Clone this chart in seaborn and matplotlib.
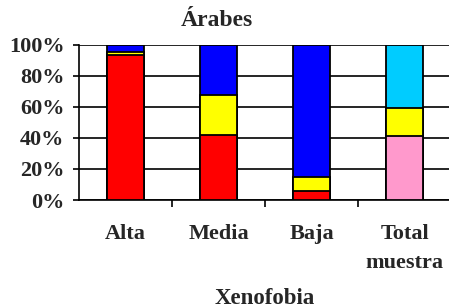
import matplotlib
matplotlib.use("Agg")
import matplotlib.pyplot as plt
import seaborn as sns
import numpy as np
import pandas as pd

categories = ["Alta", "Media", "Baja", "Total\nmuestra"]
bottom_vals = [93, 42, 6, 41]      # red / pink
middle_vals = [2, 25.5, 9, 18]     # yellow
top_vals = [5, 32.5, 85, 41]       # blue / cyan
bottom_colors = ["#FF0000", "#FF0000", "#FF0000", "#FF99CC"]
middle_colors = ["#FFFF00", "#FFFF00", "#FFFF00", "#FFFF00"]
top_colors = ["#0000FF", "#0000FF", "#0000FF", "#00CCFF"]
title = "Árabes"
xlabel = "Xenofobia"
yticks = [0, 20, 40, 60, 80, 100]

sns.set_theme(style="white")
plt.rcParams["font.family"] = ["Liberation Serif", "DejaVu Serif"]
plt.rcParams["font.weight"] = "bold"

fig = plt.figure(figsize=(4.49, 3.08), dpi=100)
W, H = 449, 308
ax = fig.add_axes([79 / W, (H - 200) / H, 372 / W, 155.5 / H])

b = np.array(bottom_vals, dtype=float)
m = np.array(middle_vals, dtype=float)
t = np.array(top_vals, dtype=float)
layers = [(b + m + t, top_colors), (b + m, middle_colors), (b, bottom_colors)]
for vals, cols in layers:
    df = pd.DataFrame({"cat": categories, "val": vals})
    sns.barplot(data=df, x="cat", y="val", hue="cat", palette=cols, legend=False,
                width=0.4, edgecolor="black", linewidth=1.3, saturation=1,
                ax=ax, zorder=3)

ax.set_xlim(-0.5, 3.5)
ax.set_ylim(0, 100)
ax.set_yticks(yticks)
ax.set_yticklabels([f"{v}%" for v in yticks], fontsize=16, fontweight="bold")
ax.yaxis.grid(True, color="black", linewidth=1.2, zorder=0)
ax.set_axisbelow(True)
for s in ["top", "right"]:
    ax.spines[s].set_visible(False)
for s in ["left", "bottom"]:
    ax.spines[s].set_color("black")
    ax.spines[s].set_linewidth(1.2)
ax.tick_params(axis="y", which="major", direction="out", length=4, width=1.2,
               color="black", pad=6.5, left=True)
ax.set_xticks([0, 1, 2, 3])
ax.set_xticklabels(categories, fontsize=16, fontweight="bold", linespacing=1.55)
ax.tick_params(axis="x", which="major", length=0, pad=17.5)
ax.set_xticks([0.5, 1.5, 2.5], minor=True)
ax.tick_params(axis="x", which="minor", direction="out", length=5, width=1.2,
               color="black", bottom=True)
ax.set_xlabel("")
ax.set_ylabel("")

fig.text(265 / W, 1 - 298 / H, xlabel, ha="center", va="center",
         fontsize=16.5, fontweight="bold")
fig.text(217 / W, 1 - 20 / H, title, ha="center", va="center",
         fontsize=17, fontweight="bold")

fig.savefig("out.png", dpi=100)
